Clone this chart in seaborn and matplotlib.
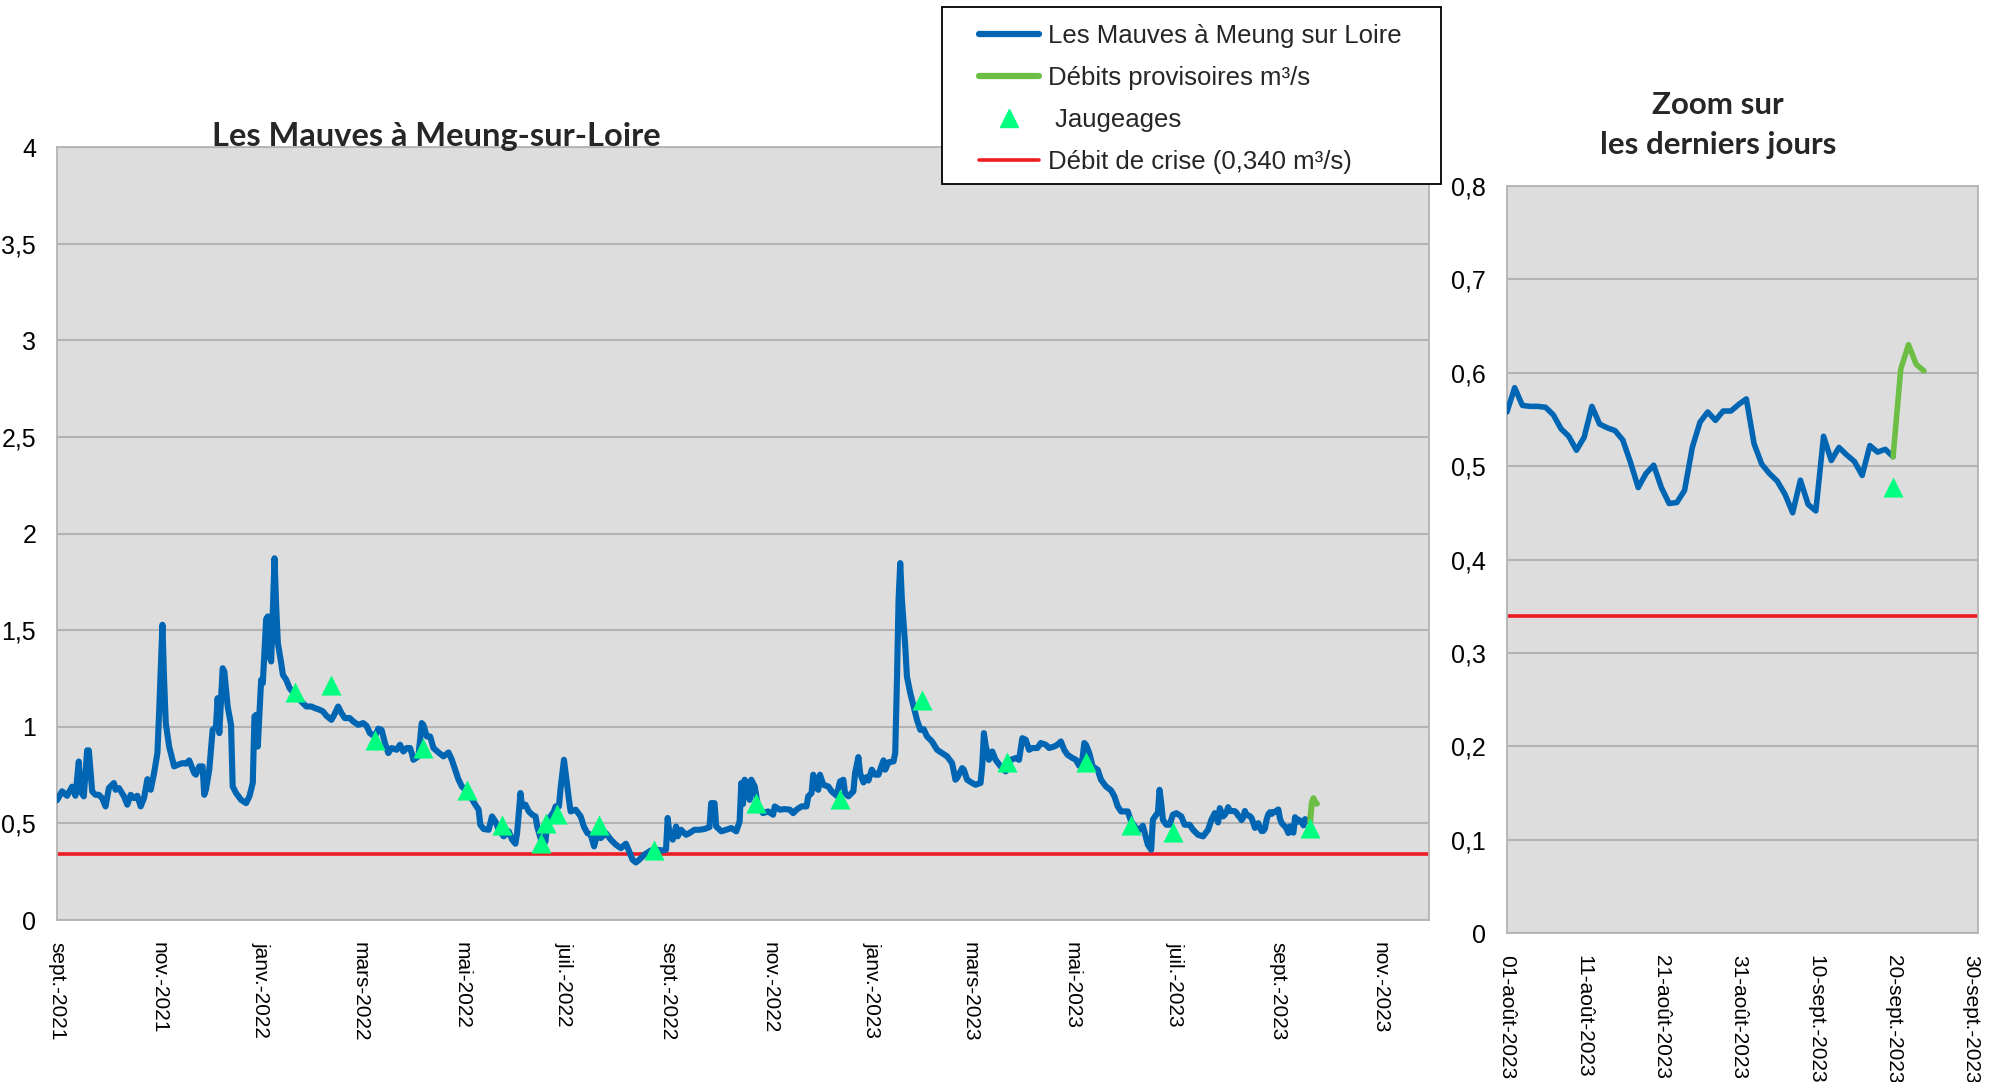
import pandas as pd
import matplotlib.pyplot as plt
import seaborn as sns
from matplotlib.lines import Line2D
from matplotlib.patches import Rectangle
from matplotlib.ticker import FuncFormatter

# Débits des Mauves à Meung-sur-Loire (m3/s).
# Jours comptés depuis le 01/09/2021, jusqu'au 31/07/2023.
jours_mauves = [
    0, 3, 6, 9, 11, 13, 14, 16, 18, 19,
    21, 23, 25, 27, 29, 31, 34, 35, 37, 40,
    42, 44, 46, 48, 50, 52, 54, 56, 58, 60,
    61, 63, 64, 65, 67, 70, 72, 75, 77, 79,
    82, 83, 85, 87, 88, 89, 91, 93, 95, 96,
    97, 99, 100, 102, 104, 105, 107, 110, 113, 115,
    117, 118, 119, 120, 122, 123, 125, 126, 127, 128,
    130, 131, 132, 134, 135, 137, 139, 143, 147, 149,
    152, 154, 157, 159, 161, 164, 166, 168, 170, 172,
    175, 177, 180, 183, 185, 187, 190, 192, 194, 196,
    198, 200, 203,
    205, 207, 209, 211, 212, 213, 216, 218, 219, 221,
    223, 225, 228, 231, 234, 236, 238, 240, 242, 244,
    247, 250, 252, 253, 255, 258, 260, 262, 264, 267,
    270, 272, 274, 275, 277, 278, 280, 282, 284, 286,
    287, 289, 290, 292, 293, 295, 297, 298, 300, 301,
    303, 304, 306, 307, 310, 313, 315, 317, 319, 321,
    323, 325, 328, 331, 334, 337, 340, 342, 344, 346,
    348, 351, 355, 358, 362, 364, 365, 366, 368, 370,
    371, 373, 376, 378, 381, 384, 387, 390, 391, 393,
    394, 397, 400, 403, 406, 408, 409,
    410, 411, 413, 414, 415, 417, 419, 422, 425, 428,
    429, 432, 435, 438, 440, 442, 445, 448, 449, 451,
    452, 454, 455, 456, 458, 461, 463, 466, 468, 470,
    471, 473, 476, 477, 479, 480, 482, 484, 485, 487,
    489, 491, 492, 494, 495, 497, 500, 501, 502, 503,
    504, 505, 507, 508, 510, 512, 514, 516, 518, 520,
    523, 526, 529, 532, 535, 537, 538, 541, 542, 544,
    547, 549, 552, 553, 554, 555, 557, 559, 561, 564,
    567, 570, 573, 575, 577, 579, 581, 583, 586, 588,
    591, 593, 596, 598, 600, 602, 604, 607, 609, 611,
    613, 614,
    615, 617, 619, 622, 624, 627, 630, 632, 634, 636,
    640, 642, 645, 647, 649, 651, 652, 654, 655, 657,
    658, 659, 660, 661, 663, 665, 667, 669, 672, 674,
    677, 679, 682, 685, 688, 690, 692, 694, 695, 697,
    698,
]
debit_mauves = [
    0.62, 0.666, 0.643, 0.69, 0.643, 0.82, 0.666, 0.64, 0.878, 0.878,
    0.666, 0.648, 0.648, 0.63, 0.588, 0.683, 0.709, 0.674, 0.683, 0.64,
    0.597, 0.648, 0.631, 0.643, 0.588, 0.631, 0.729, 0.674, 0.76, 0.864,
    1.07, 1.528, 1.243, 1.019, 0.898, 0.795, 0.803, 0.812, 0.809, 0.826,
    0.76, 0.752, 0.795, 0.795, 0.648, 0.674, 0.778, 0.984, 1.0, 1.148,
    0.967, 1.303, 1.286, 1.105, 1.01, 0.691, 0.657, 0.622, 0.605, 0.64,
    0.709, 1.053, 1.062, 0.898, 1.243, 1.226, 1.557, 1.571, 1.364, 1.338,
    1.872, 1.622, 1.433, 1.329, 1.269, 1.243, 1.2, 1.157, 1.122, 1.105,
    1.105, 1.097, 1.088, 1.079, 1.057, 1.036, 1.067, 1.105, 1.071, 1.045,
    1.045, 1.028, 1.01, 1.019, 1.005, 0.967, 0.95, 0.99, 0.984, 0.916,
    0.864, 0.89, 0.881,
    0.907, 0.872, 0.89, 0.89, 0.864, 0.829, 0.847, 1.019, 1.01, 0.95,
    0.95, 0.89, 0.867, 0.847, 0.867, 0.829, 0.778, 0.726, 0.691, 0.674,
    0.64, 0.597, 0.571, 0.493, 0.471, 0.467, 0.536, 0.51, 0.467, 0.433,
    0.459, 0.416, 0.395, 0.45, 0.657, 0.588, 0.597, 0.562, 0.545, 0.536,
    0.484, 0.424, 0.381, 0.407, 0.519, 0.536, 0.562, 0.588, 0.588, 0.683,
    0.829, 0.76, 0.622, 0.562, 0.571, 0.536, 0.481, 0.45, 0.441, 0.381,
    0.45, 0.424, 0.45, 0.416, 0.39, 0.372, 0.395, 0.355, 0.312, 0.298,
    0.312, 0.338, 0.36, 0.364, 0.36, 0.364, 0.528, 0.45, 0.416, 0.484,
    0.433, 0.467, 0.441, 0.45, 0.467, 0.467, 0.471, 0.481, 0.605, 0.605,
    0.484, 0.459, 0.467, 0.476, 0.459, 0.51, 0.709,
    0.6, 0.726, 0.7, 0.622, 0.726, 0.691, 0.588, 0.553, 0.562, 0.545,
    0.588, 0.571, 0.574, 0.571, 0.553, 0.571, 0.588, 0.588, 0.64, 0.657,
    0.752, 0.683, 0.674, 0.752, 0.7, 0.691, 0.666, 0.643, 0.717, 0.726,
    0.657, 0.64, 0.666, 0.76, 0.843, 0.76, 0.712, 0.74, 0.722, 0.778,
    0.752, 0.752, 0.778, 0.826, 0.778, 0.816, 0.821, 0.864, 1.226, 1.657,
    1.847, 1.657, 1.416, 1.26, 1.174, 1.105, 1.036, 0.984, 0.988, 0.95,
    0.924, 0.881, 0.864, 0.847, 0.812, 0.726, 0.735, 0.786, 0.778, 0.726,
    0.709, 0.7, 0.709, 0.795, 0.967, 0.907, 0.829, 0.872, 0.829, 0.795,
    0.769, 0.829, 0.838, 0.829, 0.941, 0.933, 0.881, 0.89, 0.89, 0.916,
    0.907, 0.89, 0.898, 0.907, 0.924, 0.881, 0.855, 0.838, 0.829, 0.798,
    0.838, 0.916,
    0.907, 0.864, 0.795, 0.778, 0.726, 0.691, 0.671, 0.64, 0.588, 0.562,
    0.562, 0.51, 0.476, 0.467, 0.488, 0.424, 0.39, 0.364, 0.519, 0.545,
    0.553, 0.674, 0.605, 0.519, 0.493, 0.493, 0.545, 0.553, 0.536, 0.493,
    0.493, 0.467, 0.441, 0.433, 0.467, 0.519, 0.553, 0.505, 0.579, 0.536,
    0.545,
]

# Débits journaliers du 01/08/2023 au 20/09/2023 (panneau de zoom)
debit_zoom = [
    0.558, 0.584, 0.565, 0.564, 0.564, 0.563, 0.555, 0.54, 0.532, 0.517,
    0.531, 0.564, 0.545, 0.541, 0.538, 0.528, 0.504, 0.477, 0.492, 0.501,
    0.477, 0.46, 0.461, 0.474, 0.52, 0.547, 0.558, 0.549, 0.559, 0.559,
    0.566, 0.572, 0.524, 0.502, 0.492, 0.484, 0.47, 0.45, 0.485, 0.459,
    0.452, 0.532, 0.506, 0.52, 0.512, 0.505, 0.49, 0.522, 0.515, 0.518,
    0.51,
]
# Débits provisoires du 20/09/2023 au 24/09/2023
debit_provisoire = [0.51, 0.604, 0.63, 0.609, 0.602]

# Jaugeages (jours depuis le 01/09/2021)
jours_jaugeages = [142, 164, 190, 219, 245, 266, 289, 292, 299, 324,
                   357, 418, 468, 517, 568, 615, 642, 667, 749]
debit_jaugeages = [1.179, 1.217, 0.933, 0.891, 0.671, 0.493, 0.397, 0.5, 0.547, 0.493,
                   0.364, 0.603, 0.626, 1.14, 0.817, 0.817, 0.491, 0.455, 0.478]

debit_crise = 0.340

mois_ticks = ["2021-09-01", "2021-11-01", "2022-01-01", "2022-03-01", "2022-05-01",
              "2022-07-01", "2022-09-01", "2022-11-01", "2023-01-01", "2023-03-01",
              "2023-05-01", "2023-07-01", "2023-09-01", "2023-11-01"]
mois_labels = ["sept.-2021", "nov.-2021", "janv.-2022", "mars-2022", "mai-2022",
               "juil.-2022", "sept.-2022", "nov.-2022", "janv.-2023", "mars-2023",
               "mai-2023", "juil.-2023", "sept.-2023", "nov.-2023"]
zoom_ticks = ["2023-08-01", "2023-08-11", "2023-08-21", "2023-08-31",
              "2023-09-10", "2023-09-20", "2023-09-30"]
zoom_labels = ["01-août-2023", "11-août-2023", "21-août-2023", "31-août-2023",
               "10-sept.-2023", "20-sept.-2023", "30-sept.-2023"]

BLEU = "#0066B3"
VERT = "#6DBE45"
VERT_JAUG = "#00FF80"
ROUGE = "#EE1C25"
FOND = "#DDDDDD"
GRILLE = "#B3B3B3"

debut = pd.Timestamp("2021-09-01")
df_mauves = pd.DataFrame({
    "date": debut + pd.to_timedelta(jours_mauves, unit="D"),
    "debit": debit_mauves,
})
df_zoom = pd.DataFrame({
    "date": pd.date_range("2023-08-01", periods=len(debit_zoom), freq="D"),
    "debit": debit_zoom,
})
df_prov = pd.DataFrame({
    "date": pd.date_range("2023-09-20", periods=len(debit_provisoire), freq="D"),
    "debit": debit_provisoire,
})
df_jaug = pd.DataFrame({
    "date": debut + pd.to_timedelta(jours_jaugeages, unit="D"),
    "debit": debit_jaugeages,
})
df_serie = pd.concat([df_mauves, df_zoom], ignore_index=True)

sns.set_theme(style="white")
plt.rcParams["font.family"] = ["Liberation Sans", "DejaVu Sans"]

fig = plt.figure(figsize=(20.01, 10.82), dpi=100)
ax = fig.add_axes([0.0285, 0.1497, 0.6856, 0.7144])
axz = fig.add_axes([0.7531, 0.1377, 0.2354, 0.6904])

virgule = FuncFormatter(lambda v, p: f"{v:g}".replace(".", ","))


def habiller(a, ticks, labels, ymax, ystep):
    a.set_facecolor(FOND)
    a.set_ylim(0, ymax)
    a.set_yticks([i * ystep for i in range(int(round(ymax / ystep)) + 1)])
    a.yaxis.set_major_formatter(virgule)
    a.set_xticks(pd.to_datetime(ticks))
    a.set_xticklabels(labels)
    a.grid(axis="y", color=GRILLE, lw=1.5)
    a.grid(axis="x", visible=False)
    a.set_axisbelow(True)
    for s in a.spines.values():
        s.set_color(GRILLE)
        s.set_linewidth(1.3)
    a.tick_params(axis="both", direction="out", length=9, width=1.3, color=GRILLE,
                  labelcolor="black")
    a.tick_params(axis="x", labelsize=15, labelrotation=-90, pad=7)
    a.tick_params(axis="y", labelsize=18, pad=6)
    a.set_xlabel("")
    a.set_ylabel("")


# panneau principal
sns.lineplot(data=df_serie, x="date", y="debit", ax=ax, color=BLEU, linewidth=4.4,
             estimator=None, sort=False, solid_joinstyle="round", zorder=3)
sns.lineplot(data=df_prov, x="date", y="debit", ax=ax, color=VERT, linewidth=4.4,
             estimator=None, sort=False, zorder=3)
ax.axhline(debit_crise, color=ROUGE, lw=2.6, zorder=2)
sns.scatterplot(data=df_jaug, x="date", y="debit", ax=ax, marker="^", s=210,
                color=VERT_JAUG, linewidth=0, zorder=4)
ax.set_xlim(pd.Timestamp("2021-09-01"), pd.Timestamp("2023-11-30"))
habiller(ax, mois_ticks, mois_labels, 4, 0.5)

# panneau zoom
sns.lineplot(data=df_zoom, x="date", y="debit", ax=axz, color=BLEU, linewidth=4,
             estimator=None, sort=False, solid_joinstyle="round", zorder=3)
sns.lineplot(data=df_prov, x="date", y="debit", ax=axz, color=VERT, linewidth=4,
             estimator=None, sort=False, solid_joinstyle="round", zorder=3)
axz.axhline(debit_crise, color=ROUGE, lw=2.6, zorder=2)
sns.scatterplot(data=df_jaug[df_jaug["date"] >= "2023-08-01"], x="date", y="debit",
                ax=axz, marker="^", s=210, color=VERT_JAUG, linewidth=0, zorder=4)
axz.set_xlim(pd.Timestamp("2023-08-01"), pd.Timestamp("2023-10-01"))
habiller(axz, zoom_ticks, zoom_labels, 0.8, 0.1)

# titres
fig.text(0.218, 0.874, "Les Mauves à Meung-sur-Loire", ha="center", va="center",
         fontsize=23.5, fontweight="bold", family=["Lato", "DejaVu Sans"])
fig.text(0.8585, 0.8845, "Zoom sur\nles derniers jours", ha="center", va="center",
         fontsize=22.5, fontweight="bold", family=["Lato", "DejaVu Sans"], linespacing=1.5)

# légende encadrée
fig.patches.append(Rectangle((942 / 2001, 1 - 184 / 1082), 499 / 2001, 177 / 1082,
                             transform=fig.transFigure, facecolor="white",
                             edgecolor="black", lw=1.3, zorder=5))
poignees = [
    Line2D([], [], color=BLEU, lw=4.5),
    Line2D([], [], color=VERT, lw=4.5),
    Line2D([], [], ls="none", marker="^", markersize=13, color=VERT_JAUG),
    Line2D([], [], color=ROUGE, lw=2.6),
]
etiquettes = ["Les Mauves à Meung sur Loire", "Débits provisoires m³/s",
              " Jaugeages", "Débit de crise (0,340 m³/s)"]
leg = fig.legend(poignees, etiquettes, loc="upper left",
                 bbox_to_anchor=(979 / 2001, 1 - 24 / 1082), frameon=False,
                 fontsize=18.5, handlelength=2.35, handletextpad=0.35,
                 labelspacing=0.7, borderpad=0, borderaxespad=0)
leg.set_zorder(6)

fig.savefig("out.png", dpi=100)
